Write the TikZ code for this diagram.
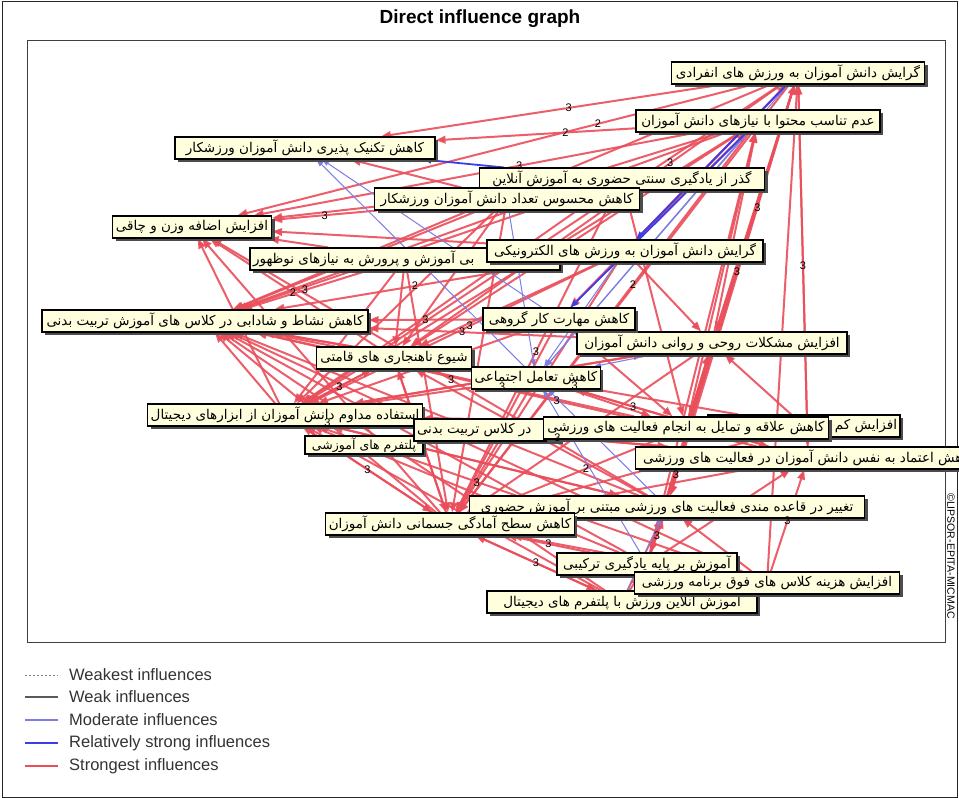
\documentclass[tikz,border=0pt]{standalone}
\usepackage{fontspec}
\setmainfont{Liberation Sans}
\newfontfamily\arabicfont[Script=Arabic]{DejaVu Sans}
\TeXXeTstate=1
\usetikzlibrary{arrows.meta,shadows}
\newcommand{\fa}[1]{{\arabicfont\beginR #1\endR}}
\definecolor{boxfill}{RGB}{255,255,222}
\definecolor{redE}{RGB}{234,78,90}
\definecolor{blueM}{RGB}{125,125,228}
\definecolor{blueS}{RGB}{60,60,232}
\pgfdeclarelayer{bottom}
\pgfdeclarelayer{edges}
\pgfsetlayers{bottom,edges,main}
\begin{document}
\begin{tikzpicture}[x=1pt,y=-1pt,
  box/.style={draw=black,line width=1.1pt,fill=boxfill,inner xsep=3pt,inner ysep=1pt,
    minimum height=22pt,font=\fontsize{13.5}{15}\selectfont,
    drop shadow={shadow xshift=3pt,shadow yshift=-3pt,fill=black!70,opacity=1}},
  strongE/.style={draw=redE,line width=2pt,draw opacity=0.9,-{Triangle[length=10pt,width=7.5pt]}},
  modE/.style={draw=blueM,line width=1pt,-{Triangle[length=7pt,width=5pt]}},
  relE/.style={draw=blueS,line width=1.8pt,-{Triangle[length=8pt,width=6pt]}},
  lbl/.style={font=\fontsize{11}{12}\selectfont,text=black,inner sep=1pt},
  legtext/.style={anchor=west,font=\fontsize{16.5}{18}\selectfont,text=black!80,inner sep=0pt}]
\useasboundingbox (0,0) rectangle (959,798);
\begin{pgfonlayer}{bottom}
\fill[white] (0,0) rectangle (959,798);
\draw[black!85,line width=1pt] (2,1) rectangle (957,797);
\draw[black!75,line width=1pt] (27,40) rectangle (945,642);
\end{pgfonlayer}
\node[font=\bfseries\fontsize{19}{21}\selectfont] (title) at (480,19) {Direct influence graph};
\node[rotate=-90,font=\fontsize{10.5}{12}\selectfont,inner sep=0pt] (copy) at (951,556) {©LIPSOR-EPITA-MICMAC};
% nodes
\node[box,minimum width=253pt] (n1) at (798,73) {\fa{گرایش دانش آموزان به ورزش های انفرادی}};
\node[box,minimum width=244pt] (n2) at (758,121) {\fa{عدم تناسب محتوا با نیازهای دانش آموزان}};
\node[box,minimum width=260pt] (n3) at (305,148) {\fa{کاهش تکنیک پذیری دانش آموزان ورزشکار}};
\node[box,minimum width=285pt] (n5) at (622,179) {\fa{گذر از یادگیری سنتی حضوری به آموزش آنلاین}};
\node[box,minimum width=265pt] (n4) at (507,199) {\fa{کاهش محسوس تعداد دانش آموزان ورزشکار}};
\node[box,minimum width=159pt] (n6) at (192,227) {\fa{افزایش اضافه وزن و چاقی}};
\node[box] (n7) at (405,259) {\makebox[304pt][l]{\arabicfont\beginR بی آموزش و پرورش به نیازهای نوظهور\endR}};
\node[box,minimum width=276pt] (n8) at (625,251) {\fa{گرایش دانش آموزان به ورزش های الکترونیکی}};
\node[box,minimum width=326pt] (n9) at (205,321) {\fa{کاهش نشاط و شادابی در کلاس های آموزش تربیت بدنی}};
\node[box,minimum width=270pt] (n11) at (712,343) {\fa{افزایش مشکلات روحی و روانی دانش آموزان}};
\node[box,minimum width=152pt] (n10) at (559,319) {\fa{کاهش مهارت کار گروهی}};
\node[box,minimum width=155pt] (n12) at (394,358) {\fa{شیوع ناهنجاری های قامتی}};
\node[box,minimum width=124pt] (n13) at (536,378) {\fa{کاهش تعامل اجتماعی}};
\node[box,minimum height=18pt,minimum width=118pt,font=\fontsize{12.5}{14}\selectfont] (n15) at (364,445) {\fa{پلتفرم های آموزشی}};
\node[box,minimum width=270pt] (n14) at (285,415) {\fa{استفاده مداوم دانش آموزان از ابزارهای دیجیتال}};
\node[box] (n18) at (804,426) {\makebox[186pt][r]{\arabicfont\beginR افزایش کم\endR}};
\node[box] (n16) at (487,430) {\makebox[140pt][l]{\arabicfont\beginR در کلاس تربیت بدنی\endR}};
\node[box,minimum width=285pt] (n17) at (686,428) {\fa{کاهش علاقه و تمایل به انجام فعالیت های ورزشی}};
\node[box,minimum width=345pt] (n19) at (808,458) {\fa{کاهش اعتماد به نفس دانش آموزان در فعالیت های ورزشی}};
\node[box,minimum width=395pt] (n20) at (667,507) {\fa{تغییر در قاعده مندی فعالیت های ورزشی مبتنی بر آموزش حضوری}};
\node[box,minimum width=240pt] (n21) at (450,524) {\fa{کاهش سطح آمادگی جسمانی دانش آموزان}};
\node[box,minimum width=180pt] (n22) at (647,564) {\fa{آموزش بر پایه یادگیری ترکیبی}};
\node[box,minimum width=270pt] (n24) at (622,602) {\fa{آموزش آنلاین ورزش با پلتفرم های دیجیتال}};
\node[box,minimum width=265pt] (n23) at (767,583) {\fa{افزایش هزینه کلاس های فوق برنامه ورزشی}};
% edges
\begin{pgfonlayer}{edges}
\foreach \a/\b in {1/3,1/6,1/9,1/12,1/14,1/10,1/21,1/20,1/17,1/11,1/19,1/22,
  2/3,2/6,2/9,2/14,2/12,2/21,2/4,
  5/6,5/9,5/14,5/21,5/17,
  4/3,4/6,4/9,4/12,4/14,4/21,
  8/6,8/9,8/14,8/21,8/12,8/11,8/2,8/1,
  7/6,7/9,7/14,7/12,7/21,
  10/9,10/14,10/21,10/17,
  11/9,11/14,11/21,11/20,11/22,11/2,
  12/6,12/9,12/14,12/21,
  13/9,13/14,13/21,13/17,13/19,
  14/6,14/9,14/12,14/21,14/11,14/17,14/19,14/20,
  17/9,17/14,17/21,17/2,17/11,
  19/14,19/9,19/21,19/13,19/1,
  20/14,20/21,20/9,20/6,20/12,
  21/9,21/14,21/6,21/12,21/24,
  22/21,22/14,22/9,22/20,22/19,22/2,22/1,
  23/21,23/14,23/20,23/19,23/9,23/1,
  24/21,24/14,24/22,24/20,24/9,
  18/9,18/14,18/21,18/11}
  \draw[strongE] (n\a) -- (n\b);
\foreach \a/\b in {13/3,10/3,1/13,2/13,8/13,11/13,22/13,20/13,4/13,24/20}
  \draw[modE] (n\a) -- (n\b);
\foreach \a/\b in {5/3,1/8,2/10,12/13}
  \draw[relE] (n\a) -- (n\b);
\end{pgfonlayer}
% labels
\foreach \a/\b/\p/\t in {1/3/0.45/3,1/6/0.3/2,2/3/0.35/2,2/6/0.4/3,1/12/0.3/3,
  4/6/0.5/3,8/9/0.5/2,8/14/0.45/3,7/9/0.5/3,10/9/0.5/3,11/9/0.55/3,
  12/6/0.5/2,14/12/0.5/3,17/9/0.35/3,
  19/9/0.4/3,20/6/0.45/3,21/9/0.5/3,21/14/0.5/3,
  22/21/0.5/3,22/20/0.5/3,23/19/0.5/3,24/21/0.5/3,
  18/9/0.35/3,11/20/0.85/3,1/20/0.3/3,1/19/0.5/3,5/21/0.5/3,2/21/0.4/2,
  8/21/0.88/3,17/21/0.4/2,14/19/0.55/3,13/19/0.3/3,22/1/0.6/3}
  \path (n\a) -- (n\b) node[lbl,pos=\p] {\t};
% legend
\draw[black!50,line width=1pt,dash pattern=on 2pt off 2pt] (25,675) -- (58,675);
\draw[black!65,line width=1.4pt] (25,697) -- (58,697);
\draw[blueM,line width=1.4pt] (25,720) -- (58,720);
\draw[blueS,line width=2.4pt] (25,743) -- (58,743);
\draw[redE,line width=2.4pt] (25,766) -- (58,766);
\node[legtext] (l1) at (69,675) {Weakest influences};
\node[legtext] (l2) at (69,697) {Weak influences};
\node[legtext] (l3) at (69,720) {Moderate influences};
\node[legtext] (l4) at (69,743) {Relatively strong influences};
\node[legtext] (l5) at (69,766) {Strongest influences};
\end{tikzpicture}
\end{document}
